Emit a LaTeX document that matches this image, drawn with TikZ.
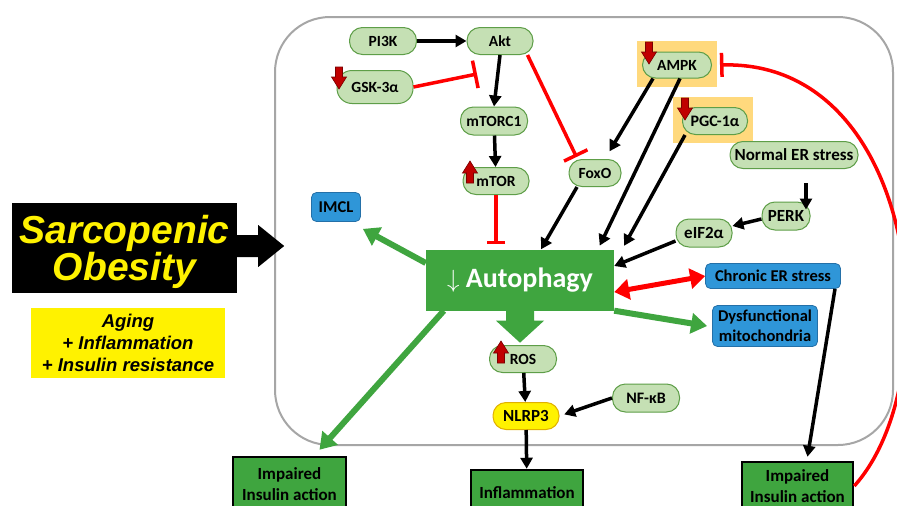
\documentclass[tikz,border=0pt]{standalone}
\usepackage{fontspec}
\setmainfont{Carlito}
\newfontfamily\headfont{Liberation Sans}
\usetikzlibrary{arrows.meta}

\definecolor{molfill}{HTML}{C5E0B4}
\definecolor{molline}{HTML}{5E9E48}
\definecolor{autogreen}{HTML}{3FA53F}
\definecolor{bluefill}{HTML}{2F96D8}
\definecolor{blueline}{HTML}{2470A8}
\definecolor{hilite}{HTML}{FFD97D}
\definecolor{markred}{HTML}{C00000}
\definecolor{markline}{HTML}{7A0000}
\definecolor{nlrpline}{HTML}{E0B000}
\definecolor{cellgray}{HTML}{A6A6A6}

\tikzset{
  mol/.style={draw=molline, fill=molfill, line width=1pt, rounded corners=13pt,
    minimum height=27pt, inner sep=0pt, font=\fontsize{15.5}{17}\selectfont\bfseries},
  big/.style={font=\fontsize{17}{19}\selectfont\bfseries},
  bluebox/.style={draw=blueline, fill=bluefill, line width=0.8pt, rounded corners=5pt,
    inner sep=0pt, align=center, font=\fontsize{16.5}{20}\selectfont\bfseries},
  outbox/.style={draw=black, fill=autogreen, line width=2.5pt, inner sep=0pt,
    align=center, font=\fontsize{17}{21}\selectfont\bfseries},
  act/.style={-{Triangle[length=11pt,width=12pt]}, line width=3.5pt},
  inh/.style={red, line width=3.5pt, -{Bar[width=24pt]}},
  gact/.style={autogreen, line width=6pt, -{Triangle[length=16pt,width=20pt]}},
  downmark/.pic={\filldraw[fill=markred, draw=markline, line width=0.6pt]
    (-3.5,-11) -- (3.5,-11) -- (3.5,-1) -- (7.5,-1) -- (0,11) -- (-7.5,-1) -- (-3.5,-1) -- cycle;},
  upmark/.pic={\filldraw[fill=markred, draw=markline, line width=0.6pt]
    (-3.5,11) -- (3.5,11) -- (3.5,1) -- (7.5,1) -- (0,-11) -- (-7.5,1) -- (-3.5,1) -- cycle;},
}

\begin{document}
\begin{tikzpicture}[x=1pt, y=-1pt]
	\useasboundingbox (0,0) rectangle (897,506);
	\clip (0,0) rectangle (897,506);
	\fill[white] (0,0) rectangle (897,506);
	% cell
	\draw[cellgray, line width=2pt, rounded corners=55pt] (275,17) rectangle (893,445);
	\fill[hilite] (637,41) rectangle (717,87);
	\fill[hilite] (673,97) rectangle (753,143);

	\node[draw=none, fill=black, minimum width=225pt, minimum height=90pt, inner sep=0pt,
		align=center, text=yellow, font=\headfont\bfseries\itshape\fontsize{39}{35}\selectfont]
		(sarc) at (124.5,248) {\rule{0pt}{36.5pt}Sarcopenic\\Obesity};
	\node[fill=yellow, minimum width=194pt, minimum height=70pt, inner sep=0pt, align=center,
		font=\headfont\bfseries\itshape\fontsize{18.5}{22}\selectfont]
		(risk) at (128,343) {Aging\\+ Inflammation\\+ Insulin resistance};
	\fill[black] ([yshift=2pt]sarc.east) -- ++(0,-11) -- ++(21,0) -- ++(0,-10) -- ++(26,21)
		-- ++(-26,21) -- ++(0,-10) -- ++(-21,0) -- cycle;

	\node[mol, minimum width=67pt] (pik) at (383,41) {PI3K};
	\node[mol, minimum width=66pt] (akt) at (500,41) {Akt};
	\node[mol, minimum width=76pt, minimum height=33pt, rounded corners=15pt] (gsk) at (375,87) {GSK-3α};
	\node[mol, minimum width=67pt, minimum height=28pt] (mtorc) at (494,121) {mTORC1};
	\node[mol, minimum width=66pt] (mtor) at (496,181) {mTOR};
	\node[mol, minimum width=52pt] (foxo) at (595,173) {FoxO};
	\node[bluebox, minimum width=49pt, minimum height=29pt] (imcl) at (336,207) {IMCL};
	\node[mol, minimum width=69pt, minimum height=26pt] (ampk) at (677,65) {AMPK};
	\node[mol, minimum width=65pt, font=\fontsize{16}{18}\selectfont\bfseries] (pgc) at (715,121) {PGC-1α};
	\node[mol, big, minimum width=128pt] (ner) at (794,155) {Normal ER stress};
	\node[mol, big, minimum width=48pt, minimum height=28pt] (perk) at (786,216) {PERK};
	\node[mol, big, minimum width=56pt, minimum height=28pt] (eif) at (704,233) {eIF2α};
	\node[fill=autogreen, minimum width=188pt, minimum height=61pt, inner sep=0pt, text=white,
		font=\fontsize{28}{30}\selectfont\bfseries] (auto) at (520,280) {$\downarrow$ Autophagy};
	\node[mol, minimum width=67pt] (ros) at (523,359) {ROS};
	\node[mol, big, fill=yellow, draw=nlrpline, minimum width=66pt] (nlrp) at (526,416) {NLRP3};
	\node[mol, minimum width=67pt, minimum height=28pt, font=\fontsize{16}{18}\selectfont\bfseries] (nfkb) at (646,398) {NF-κB};
	\node[bluebox, minimum width=135pt, minimum height=25pt] (cer) at (773,276) {Chronic ER stress};
	\node[bluebox, minimum width=105pt, minimum height=41pt] (dmito) at (765,326) {Dysfunctional\\mitochondria};
	\node[outbox, minimum width=113pt, minimum height=55pt] (iial) at (289.5,484.5) {Impaired\\Insulin action};
	\node[outbox, minimum width=112pt, minimum height=46pt] (infl) at (527,493) {Inflammation};
	\node[outbox, minimum width=111pt, minimum height=48pt] (iiar) at (797.5,486) {Impaired\\Insulin action};

	\fill[autogreen] ([xshift=-14pt,yshift=1pt]auto.south) -- ++(0,11) -- ++(-10,0) -- ++(24,22)
		-- ++(24,-22) -- ++(-10,0) -- ++(0,-11) -- cycle;

	\coordinate (gbar) at (477,74);
	\draw[act] (pik) -- (akt);
	\draw[act] (akt.south) -- (mtorc.north);
	\draw[act] (mtorc) -- (mtor);
	\draw[inh, -{Bar[width=28pt]}] (gsk.east) -- (gbar);
	\draw[inh, -{Bar[width=26pt]}] ([xshift=-6pt]akt.south east) -- ([xshift=8pt,yshift=2pt]foxo.north west);
	\draw[inh, -{Bar[width=18pt]}, shorten >=5pt] (mtor.south) -- (mtor.south |- auto.north);
	\draw[act] ([xshift=-18pt]foxo.south) -- ([xshift=21pt]auto.north);
	\draw[act, shorten >=9pt] ([xshift=-24pt]ampk.south) -- ([xshift=10pt]foxo.north);
	\draw[act, shorten >=4pt] ([xshift=3pt]ampk.south) -- ([xshift=78pt]auto.north);
	\draw[act, shorten >=4pt] ([xshift=-30pt]pgc.south) -- ([xshift=8pt]auto.north east);
	\draw[act] ([xshift=12pt,yshift=-14pt]ner.south) -- ([xshift=20pt,yshift=-8pt]perk.north);
	\draw[act] ([yshift=-3pt]perk.west) -- ([yshift=7pt]eif.east);
	\draw[act] ([yshift=-8pt]eif.west) -- ([yshift=14pt]auto.east);
	\draw[red, line width=5pt, {Triangle[length=15pt,width=20pt]}-{Triangle[length=15pt,width=20pt]}]
		([yshift=-12pt]auto.east) -- (cer.west);
	\draw[gact] ([yshift=17pt]auto.west) -- ([xshift=2pt,yshift=-7pt]imcl.south east);
	\draw[gact] (auto.south east) -- ([xshift=-5pt]dmito.west);
	\draw[gact] ([xshift=18pt]auto.south west) -- ([xshift=30pt,yshift=6pt]iial.north);
	\draw[act] (ros) -- (nlrp);
	\draw[act, shorten >=5pt] (nfkb.west) -- (nlrp.east);
	\draw[act] (nlrp) -- (infl);
	\draw[act] ([xshift=62pt]cer.south) -- ([xshift=10pt,yshift=4pt]iiar.north);
	\draw[inh, -{Bar[width=24pt]}] (iiar.east) .. controls (950,380) and (920,60) .. ([xshift=8pt]ampk.east);

	\pic at (339,78) {downmark};
	\pic at (649,53) {downmark};
	\pic at (685,109) {downmark};
	\pic at (470,172) {upmark};
	\pic at (501,352) {upmark};
\end{tikzpicture}
\end{document}
